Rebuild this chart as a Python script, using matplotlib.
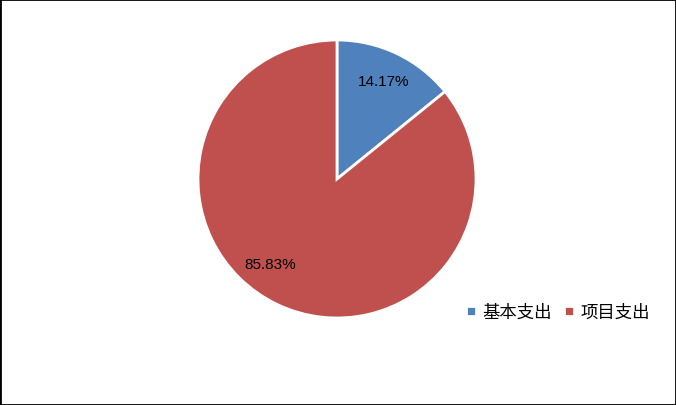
import matplotlib
matplotlib.use("Agg")
import matplotlib.pyplot as plt
from matplotlib.patches import Rectangle
import numpy as np

plt.rcParams['font.family'] = ['Noto Sans CJK SC', 'DejaVu Sans']

categories = ["基本支出", "项目支出"]
values = [14.17, 85.83]
colors = ["#4F81BD", "#C0504D"]

fig = plt.figure(figsize=(6.76, 4.06), dpi=100)
fig.patches.append(Rectangle((0, 0), 1, 1, transform=fig.transFigure,
                             fill=False, edgecolor="black", linewidth=2.0))

cx, cy, r = 337, 180, 139
ax = fig.add_axes([(cx - r) / 676, (406 - cy - r) / 406, 2 * r / 676, 2 * r / 406])
wedges, texts, autotexts = ax.pie(
    values, colors=colors, startangle=90, counterclock=False,
    autopct=lambda p: f"{p:.2f}%", pctdistance=0.78,
    wedgeprops=dict(edgecolor="white", linewidth=2),
    textprops=dict(fontsize=11, family=['Liberation Sans', 'DejaVu Sans'], color="black"))
ax.set_aspect('equal')
ax.set_xlim(-1, 1)
ax.set_ylim(-1, 1)

# shift second label similar to reference placement
ang = np.deg2rad(-128)
autotexts[1].set_position((0.78 * np.cos(ang), 0.78 * np.sin(ang)))

leg = fig.legend(wedges, categories, loc='center', bbox_to_anchor=(0.826, 0.229),
                 ncol=2, frameon=False, fontsize=12.5, handlelength=0.55, handleheight=0.55,
                 handletextpad=0.4, columnspacing=0.7)

fig.savefig("out.png", dpi=100)
